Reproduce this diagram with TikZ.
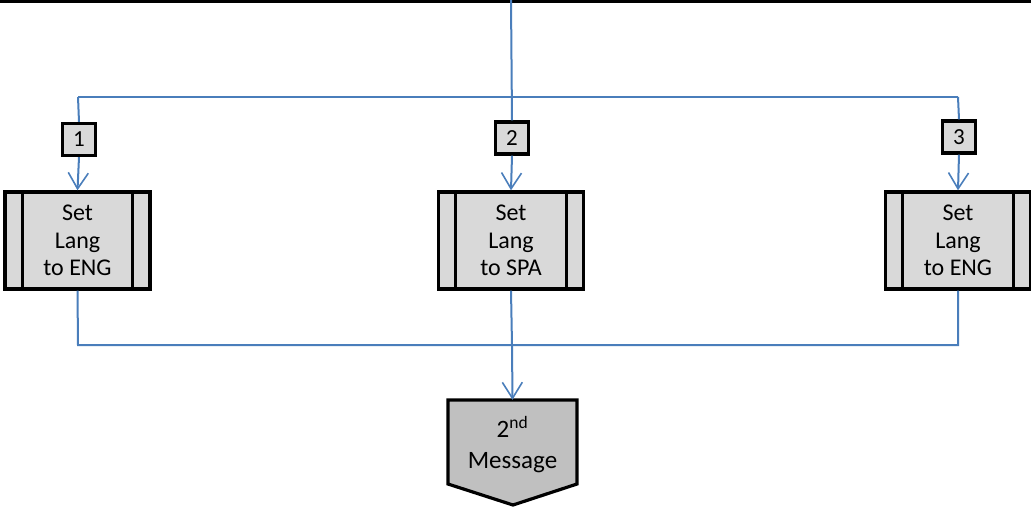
\documentclass[tikz,border=0pt]{standalone}
\usepackage{fontspec}
\setmainfont{Carlito}
\usetikzlibrary{arrows.meta}
\definecolor{flowblue}{RGB}{74,126,187}
\definecolor{boxgray}{RGB}{217,217,217}
\definecolor{msggray}{RGB}{192,192,192}
\begin{document}
\begin{tikzpicture}[x=1pt,y=1pt,
  flow/.style={draw=flowblue, line width=2pt},
  flowarrow/.style={flow, -{Straight Barb[length=16pt,width=20pt,line width=1.6pt]}},
  tag/.style={draw, line width=3.4pt, fill=boxgray, minimum width=33pt, minimum height=32pt,
    inner sep=0pt, font=\fontsize{23}{26}\selectfont},
  predef/.style={draw, line width=3.4pt, fill=boxgray, minimum width=145pt, minimum height=97pt,
    inner sep=0pt, align=center, font=\fontsize{24}{27.5}\selectfont,
    append after command={
      ([xshift=19pt]\tikzlastnode.north west) edge[line width=3.2pt] ([xshift=19pt]\tikzlastnode.south west)
      ([xshift=-19pt]\tikzlastnode.north east) edge[line width=3.2pt] ([xshift=-19pt]\tikzlastnode.south east)}},
  msgtext/.style={minimum width=129pt, minimum height=84pt, inner sep=0pt, align=center,
    font=\fontsize{25}{31}\selectfont}]
\useasboundingbox (0,0) rectangle (1031,-511);

% frame edge along the top
\draw[line width=3.4pt] (0,-1) -- (1031,-1);

% numbered branch tags
\node[tag] (t1) at (79,-139.5) {1};
\node[tag] (t2) at (512,-138) {2};
\node[tag] (t3) at (959,-137) {3};

% predefined-process boxes
\node[predef] (p1) at (77.5,-240.5) {Set\\Lang\\to ENG};
\node[predef] (p2) at (511,-240.5) {Set\\Lang\\to SPA};
\node[predef] (p3) at (958,-240.5) {Set\\Lang\\to ENG};

% off-page connector shape
\draw[line width=3.2pt, fill=msggray] (448,-400) -- (577,-400) -- (577,-484)
  -- (513,-505) -- (448,-484) -- cycle;
\node[msgtext] (msg) at (512.5,-442) {};
\node[font=\fontsize{25}{31}\selectfont, align=center, inner sep=0pt] (msglabel)
  at (512.5,-445) {2\textsuperscript{nd}\\Message};

% junction points
\coordinate (in) at (511,0);
\coordinate (sl) at (78,-97);
\coordinate (sr) at (958,-97);
\coordinate (merge) at (512,-345);
\coordinate (ml) at (78,-345);
\coordinate (mr) at (958,-345);

% incoming line and branching
\draw[flow] (in) -- (t2.north);
\draw[flow] (sl) -- (sr);
\draw[flow] (sl) -- (t1.north);
\draw[flow] (sr) -- (t3.north);
\draw[flowarrow] (t1.south) -- (p1.north);
\draw[flowarrow] (t2.south) -- (p2.north);
\draw[flowarrow] (t3.south) -- (p3.north);

% merging back
\draw[flow] (p1.south) -- (ml) -- (mr) -- (p3.south);
\draw[flow] (p2.south) -- (merge);
\draw[flowarrow] (merge) -- (msg.north);
\end{tikzpicture}
\end{document}
